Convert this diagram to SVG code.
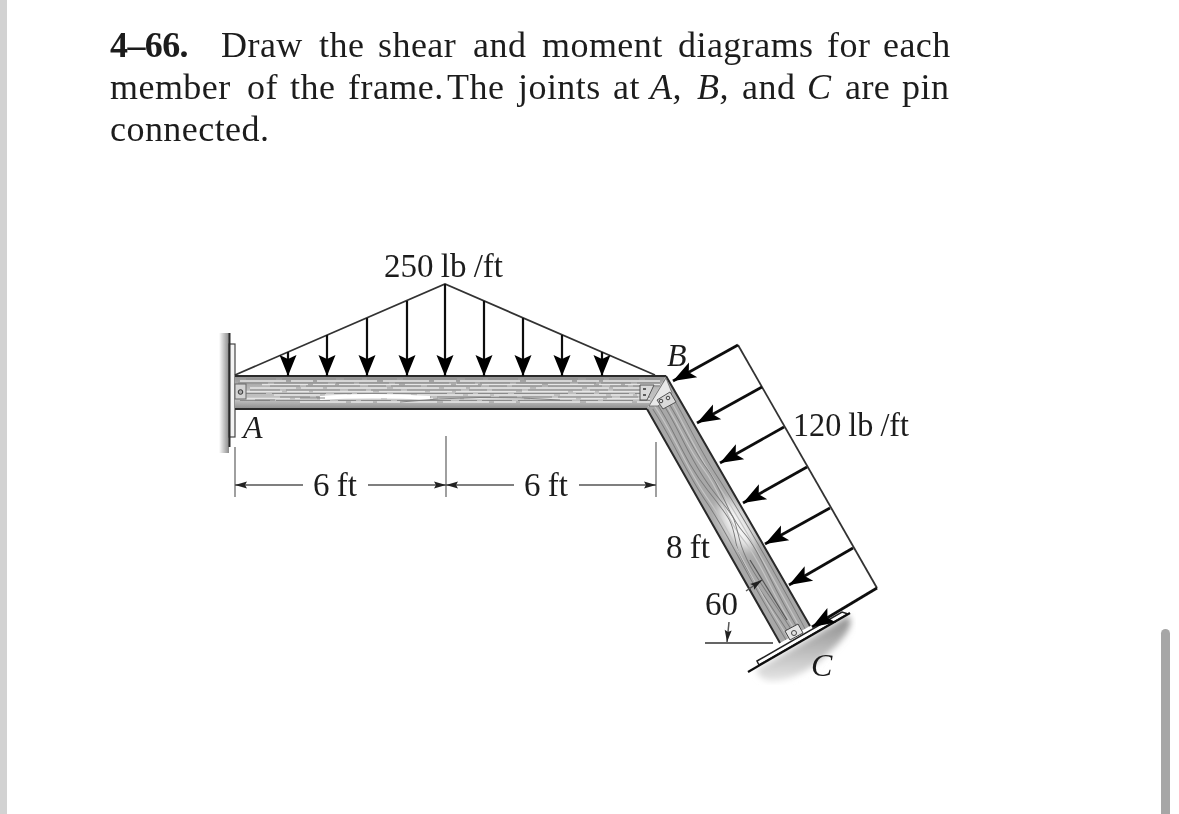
<svg xmlns="http://www.w3.org/2000/svg" width="1179" height="814" viewBox="0 0 1179 814">
<style>
text{font-family:"Liberation Serif","Times New Roman",serif;fill:#1c1c1c}
.t{font-size:36px;letter-spacing:.45px}
.l{font-size:33px;word-spacing:-1px}
.i{font-size:32px;font-style:italic}
.o{fill:none;stroke:#333;stroke-width:1.800}
.dim{fill:none;stroke:#777;stroke-width:1.400}
.dimd{fill:none;stroke:#555;stroke-width:1.500}
.ar{fill:none;stroke:#111;stroke-width:2.200}
.ar2{fill:none;stroke:#111;stroke-width:2.800}
.g1{fill:none;stroke:#e6e6e6;stroke-width:1.600;stroke-dasharray:46 5 22 4 60 6}
.g2{fill:none;stroke:#8a8a8a;stroke-width:1;stroke-dasharray:30 6 54 8 18 5}
.g3{fill:none;stroke:#7a7a7a;stroke-width:.9}
.g4{fill:none;stroke:#c4c4c4;stroke-width:1.200}
.edge{fill:none;stroke:#2a2a2a;stroke-width:2}
.pl{fill:#d9d9d9;stroke:#555;stroke-width:1}
</style>
<defs>
<marker id="ah" markerUnits="userSpaceOnUse" markerWidth="26" markerHeight="22" refX="22" refY="11" orient="auto"><path d="M22 11L1 2.500L5 11L1 19.500Z" fill="#000"/></marker>
<marker id="ah2" markerUnits="userSpaceOnUse" markerWidth="28" markerHeight="22" refX="25" refY="11" orient="auto"><path d="M25 11L2 2.500L7 11L2 19.500Z" fill="#000"/></marker>
<marker id="dh" markerUnits="userSpaceOnUse" markerWidth="14" markerHeight="10" refX="13" refY="5" orient="auto"><path d="M13 5L1 1.500L3 5L1 8.500Z" fill="#222"/></marker>
<linearGradient id="beam" x1="0" y1="0" x2="0" y2="1"><stop offset="0" stop-color="#939393"/><stop offset=".4" stop-color="#bcbcbc"/><stop offset=".72" stop-color="#c2c2c2"/><stop offset="1" stop-color="#8c8c8c"/></linearGradient>
<linearGradient id="wall" x1="0" y1="0" x2="1" y2="0"><stop offset="0" stop-color="#fff"/><stop offset="1" stop-color="#8a8a8a"/></linearGradient>
<linearGradient id="sh" x1="0" y1="0" x2="0" y2="1"><stop offset="0" stop-color="#8c8c8c"/><stop offset="1" stop-color="#e6e6e6"/></linearGradient>
<clipPath id="bc"><rect x="235" y="376" width="425" height="33"/></clipPath>
<clipPath id="mc"><path d="M666 376L810 626L780 643L647 409Z"/></clipPath>
<filter id="soft" x="-5%" y="-5%" width="110%" height="110%"><feGaussianBlur stdDeviation=".45"/></filter>
<filter id="bl" x="-30%" y="-30%" width="160%" height="160%"><feGaussianBlur stdDeviation="3"/></filter>
<filter id="bl2" x="-60%" y="-60%" width="220%" height="220%"><feGaussianBlur stdDeviation="6"/></filter>
</defs>
<rect width="1179" height="814" fill="#fff"/>
<rect x="0" y="0" width="7" height="814" fill="#d2d2d2"/>
<rect x="1161" y="629" width="9" height="190" rx="4.500" fill="#a6a6a6"/>
<g id="title" filter="url(#soft)">
<text class="t" y="57"><tspan x="110" font-weight="bold" letter-spacing="-.6">4–66.</tspan><tspan x="221">Draw</tspan><tspan x="319">the</tspan><tspan x="378">shear</tspan><tspan x="473">and</tspan><tspan x="542">moment</tspan><tspan x="678">diagrams</tspan><tspan x="827">for</tspan><tspan x="883">each</tspan></text>
<text class="t" y="99"><tspan x="110">member</tspan><tspan x="247">of</tspan><tspan x="290">the</tspan><tspan x="348">frame.</tspan><tspan x="447">The</tspan><tspan x="518">joints</tspan><tspan x="613">at</tspan><tspan x="650" font-style="italic">A,</tspan><tspan x="697" font-style="italic">B,</tspan><tspan x="742">and</tspan><tspan x="807" font-style="italic">C</tspan><tspan x="845">are</tspan><tspan x="902">pin</tspan></text>
<text class="t" y="141" x="110">connected.</text>
</g>
<g id="wall-A" filter="url(#soft)">
<rect x="219" y="333" width="10" height="120" fill="url(#wall)"/>
<rect x="229" y="344" width="6" height="93" fill="#f4f4f4" stroke="#444" stroke-width="1.200"/>
<path d="M229.500 333V447" class="edge"/>
</g>
<g id="beam-AB" filter="url(#soft)">
<path d="M235 376H666L647 409H235Z" fill="url(#beam)"/>
<g clip-path="url(#bc)">
<path class="g1" d="M240 381H660M262 384.500H660M250 388H650M236 391.500H650M274 395H650M244 398.500H650M300 402H650"/>
<path class="g2" d="M246 379H660M238 383H660M270 386H660M250 390H650M236 393.500H650M280 397H650M240 400.500H650"/>
<path d="M320 398Q370 394 430 398" stroke="#fff" stroke-width="4" fill="none"/>
<path class="g3" d="M400 402Q480 394 560 400M255 400H275M300 398H325"/>
</g>
<path class="edge" d="M235 376H666M235 409H647"/>
</g>
<g id="member-BC" filter="url(#soft)">
<path d="M666 376L810 626L780 643L647 409Z" fill="#a8a8a8"/>
<g clip-path="url(#mc)">
<ellipse cx="737" cy="525" rx="12" ry="28" transform="rotate(-30 737 525)" fill="#f6f6f6" filter="url(#bl2)"/>
<g transform="translate(666 376) rotate(60)">
<path class="g3" d="M0 5C40 3 70 8 110 6S190 3 290 6"/>
<path class="g4" d="M0 8C40 7 70 12 110 10S190 7 290 10"/>
<path class="g3" d="M10 12C40 9 70 14 100 11S150 16 175 11S230 14 290 12"/>
<path class="g4" d="M10 15C50 12 70 18 100 14S150 20 180 15S240 18 290 15"/>
<path class="g3" d="M18 17C50 14 80 22 120 17S150 10 178 18S230 20 290 18"/>
<path class="g3" d="M18 22C50 19 80 27 120 21S160 16 180 23S240 24 290 22"/>
<path class="g4" d="M18 25C60 22 90 29 130 25S190 29 290 25"/>
<path class="g3" d="M22 28C60 26 90 31 130 28S190 30 290 28"/>
</g>
<path d="M750 560L787 620" stroke="#555" stroke-width="1.200" fill="none"/>
</g>
<path class="edge" d="M666 376L810 626M647 409L780 643"/>
</g>
<g id="joint-B" filter="url(#soft)">
<path d="M640 385H654L647 400H640Z" class="pl"/>
<path d="M666 378L672 393L658 406L649 406Z" fill="#e8e8e8" stroke="#666" stroke-width=".800"/>
<path d="M657 400L670 392L676 402L663 409Z" class="pl"/>
<circle cx="661" cy="401" r="1.800" fill="none" stroke="#444"/><circle cx="668" cy="398" r="1.800" fill="none" stroke="#444"/>
<path d="M643 389h3M643 395h3" stroke="#333" stroke-width="1.500"/>
</g>
<g id="pin-A" filter="url(#soft)">
<rect x="235" y="384" width="11" height="15" fill="#d4d4d4" stroke="#666"/>
<circle cx="240.500" cy="392" r="2.300" fill="#aaa" stroke="#333"/>
</g>
<g id="support-C" filter="url(#soft)">
<path d="M756 670L848 616Q856 624 838 644Q802 682 770 681Q760 680 756 670Z" fill="url(#sh)" filter="url(#bl)"/>
<path d="M757 661L842 612L848 614L759 665Z" fill="#fff" stroke="#222" stroke-width="1.500"/>
<path d="M748 672L850 613" stroke="#111" stroke-width="2.200"/>
<path d="M785 631L798 624L803 633L790 640Z" fill="#e4e4e4" stroke="#444"/>
<circle cx="794" cy="633" r="2.500" fill="none" stroke="#444"/>
</g>
<g id="connectors" filter="url(#soft)">
<path class="o" d="M235 375L445 284L655 375"/>
<path class="o" d="M738 345L877 588"/>
<path class="ar" marker-end="url(#ah)" d="M288 352V376"/>
<path class="ar" marker-end="url(#ah)" d="M327 335V376"/>
<path class="ar" marker-end="url(#ah)" d="M367 318V376"/>
<path class="ar" marker-end="url(#ah)" d="M407 301V376"/>
<path class="ar" marker-end="url(#ah)" d="M445 284V376"/>
<path class="ar" marker-end="url(#ah)" d="M484 301V376"/>
<path class="ar" marker-end="url(#ah)" d="M523 318V376"/>
<path class="ar" marker-end="url(#ah)" d="M562 335V376"/>
<path class="ar" marker-end="url(#ah)" d="M602 352V376"/>
<path class="ar2" marker-end="url(#ah2)" d="M738 345L673 381"/>
<path class="ar2" marker-end="url(#ah2)" d="M762 387L697 423"/>
<path class="ar2" marker-end="url(#ah2)" d="M784 427L720 463"/>
<path class="ar2" marker-end="url(#ah2)" d="M807 467L743 503"/>
<path class="ar2" marker-end="url(#ah2)" d="M830 508L765 544"/>
<path class="ar2" marker-end="url(#ah2)" d="M853 548L789 585"/>
<path class="ar2" marker-end="url(#ah2)" d="M877 588L812 627"/>
<path class="dim" d="M235 447V497M446 436V497M656 442V497"/>
<path class="dimd" marker-end="url(#dh)" d="M303 485H235"/>
<path class="dimd" marker-end="url(#dh)" d="M368 485H446"/>
<path class="dimd" marker-end="url(#dh)" d="M514 485H446"/>
<path class="dimd" marker-end="url(#dh)" d="M579 485H656"/>
<path d="M705 643H773" stroke="#333" stroke-width="1.300" fill="none"/>
<path class="dimd" marker-end="url(#dh)" d="M729 622L727 642"/>
<path class="dimd" marker-end="url(#dh)" d="M746 591L762 580"/>
</g>
<g id="labels" filter="url(#soft)">
<text class="l" x="384" y="277" textLength="119" lengthAdjust="spacingAndGlyphs">250 lb /ft</text>
<text class="l" x="793" y="436" textLength="116" lengthAdjust="spacingAndGlyphs">120 lb /ft</text>
<text class="l" x="313" y="496">6 ft</text>
<text class="l" x="524" y="496">6 ft</text>
<text class="l" x="666" y="558">8 ft</text>
<text class="l" x="705" y="615">60</text>
<text class="i" x="243" y="438">A</text>
<text class="i" x="667" y="366">B</text>
<text class="i" x="811" y="676">C</text>
</g>
</svg>
